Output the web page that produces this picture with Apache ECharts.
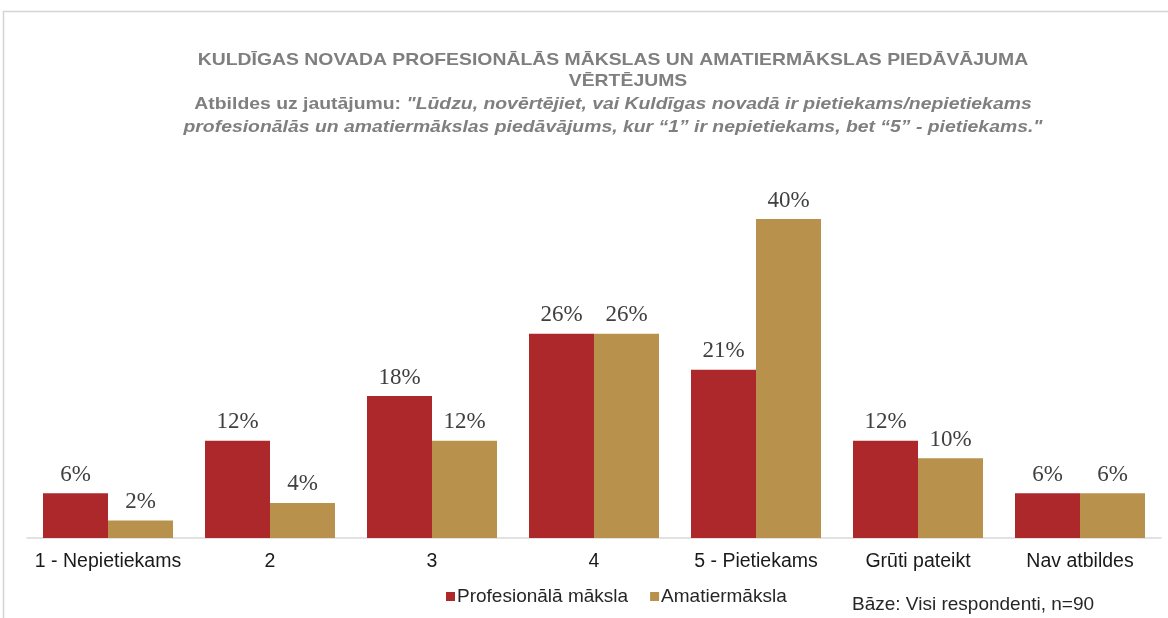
<!DOCTYPE html>
<html>
<head>
<meta charset="utf-8">
<script src="https://cdn.jsdelivr.net/npm/echarts@6/dist/echarts.min.js"></script>
<style>
html,body{margin:0;padding:0;background:#fff;}
#chart{width:1168px;height:618px;}
</style>
</head>
<body>
<div id="chart"></div>
<script>
const categories = ['1 - Nepietiekams', '2', '3', '4', '5 - Pietiekams', 'Grūti pateikt', 'Nav atbildes'];
const seriesNames = ['Profesionālā māksla', 'Amatiermāksla'];
const profesionala = [5.6, 12.2, 17.8, 25.6, 21.1, 12.2, 5.6];
const amatiermaksla = [2.2, 4.4, 12.2, 25.6, 40.0, 10.0, 5.6];
const titleLine1 = 'KULDĪGAS NOVADA PROFESIONĀLĀS MĀKSLAS UN AMATIERMĀKSLAS PIEDĀVĀJUMA';
const titleLine2 = 'VĒRTĒJUMS';
const subPrefix = 'Atbildes uz jautājumu: ';
const subLine1 = '"Lūdzu, novērtējiet, vai Kuldīgas novadā ir pietiekams/nepietiekams';
const subLine2 = 'profesionālās un amatiermākslas piedāvājums, kur “1” ir nepietiekams, bet “5” - pietiekams."';
const baseNote = 'Bāze: Visi respondenti, n=90';

const colors = ['#AD282B', '#B8924C'];
const chart = echarts.init(document.getElementById('chart'));
const titleColor = '#7F7F7F';
const sx = 1.14;
const labelOpt = {
  show: true, position: 'top', distance: 7,
  fontFamily: 'Liberation Serif', fontSize: 23, color: '#404040',
  formatter: p => Math.round(p.value) + '%'
};
chart.setOption({
  animation: false,
  backgroundColor: '#fff',
  grid: { left: 27, right: 7, top: 219, bottom: 80, containLabel: false },
  legend: {
    data: seriesNames, left: 441, top: 582, itemWidth: 9, itemHeight: 9, itemGap: 22,
    icon: 'rect',
    textStyle: { fontFamily: 'Liberation Sans', fontSize: 19, color: '#262626', padding: [0, 0, 0, -3] }
  },
  xAxis: {
    type: 'category', data: categories,
    axisLine: { lineStyle: { color: '#D9D9D9', width: 1.5 } },
    axisTick: { show: false },
    axisLabel: { fontFamily: 'Liberation Sans', fontSize: 19.5, color: '#1a1a1a', margin: 14, interval: 0 }
  },
  yAxis: {
    type: 'value', min: 0, max: 40, show: false, splitLine: { show: false }
  },
  series: [
    { name: seriesNames[0], type: 'bar', data: profesionala, barWidth: 65, barGap: '0%',
      itemStyle: { color: colors[0] }, label: labelOpt },
    { name: seriesNames[1], type: 'bar', data: amatiermaksla, barWidth: 65, barGap: '0%',
      itemStyle: { color: colors[1] }, label: labelOpt }
  ],
  graphic: [
    { type: 'rect', shape: { x: 3.5, y: 11.5, width: 1200, height: 700 },
      style: { fill: 'none', stroke: '#D4D4D4', lineWidth: 1.5 }, silent: true },
    { type: 'text', x: 613, y: 60, scaleX: sx, style: { text: titleLine1, align: 'center', verticalAlign: 'middle',
      fontFamily: 'Liberation Sans', fontWeight: 'bold', fontSize: 17, fill: titleColor } },
    { type: 'text', x: 628, y: 81, scaleX: sx, style: { text: titleLine2, align: 'center', verticalAlign: 'middle',
      fontFamily: 'Liberation Sans', fontWeight: 'bold', fontSize: 17, fill: titleColor } },
    { type: 'text', x: 613, y: 104, scaleX: sx, style: {
      text: '{a|' + subPrefix + '}{b|' + subLine1 + '}', align: 'center', verticalAlign: 'middle',
      rich: {
        a: { fontFamily: 'Liberation Sans', fontWeight: 'bold', fontSize: 17, fill: titleColor },
        b: { fontFamily: 'Liberation Sans', fontWeight: 'bold', fontStyle: 'italic', fontSize: 17, fill: titleColor }
      } } },
    { type: 'text', x: 613, y: 127, scaleX: sx, style: { text: subLine2, align: 'center', verticalAlign: 'middle',
      fontFamily: 'Liberation Sans', fontWeight: 'bold', fontStyle: 'italic', fontSize: 17, fill: titleColor } },
    { type: 'text', x: 852, y: 605, style: { text: baseNote, align: 'left', verticalAlign: 'middle',
      fontFamily: 'Liberation Sans', fontSize: 19, fill: '#262626' } }
  ]
});
</script>
</body>
</html>
